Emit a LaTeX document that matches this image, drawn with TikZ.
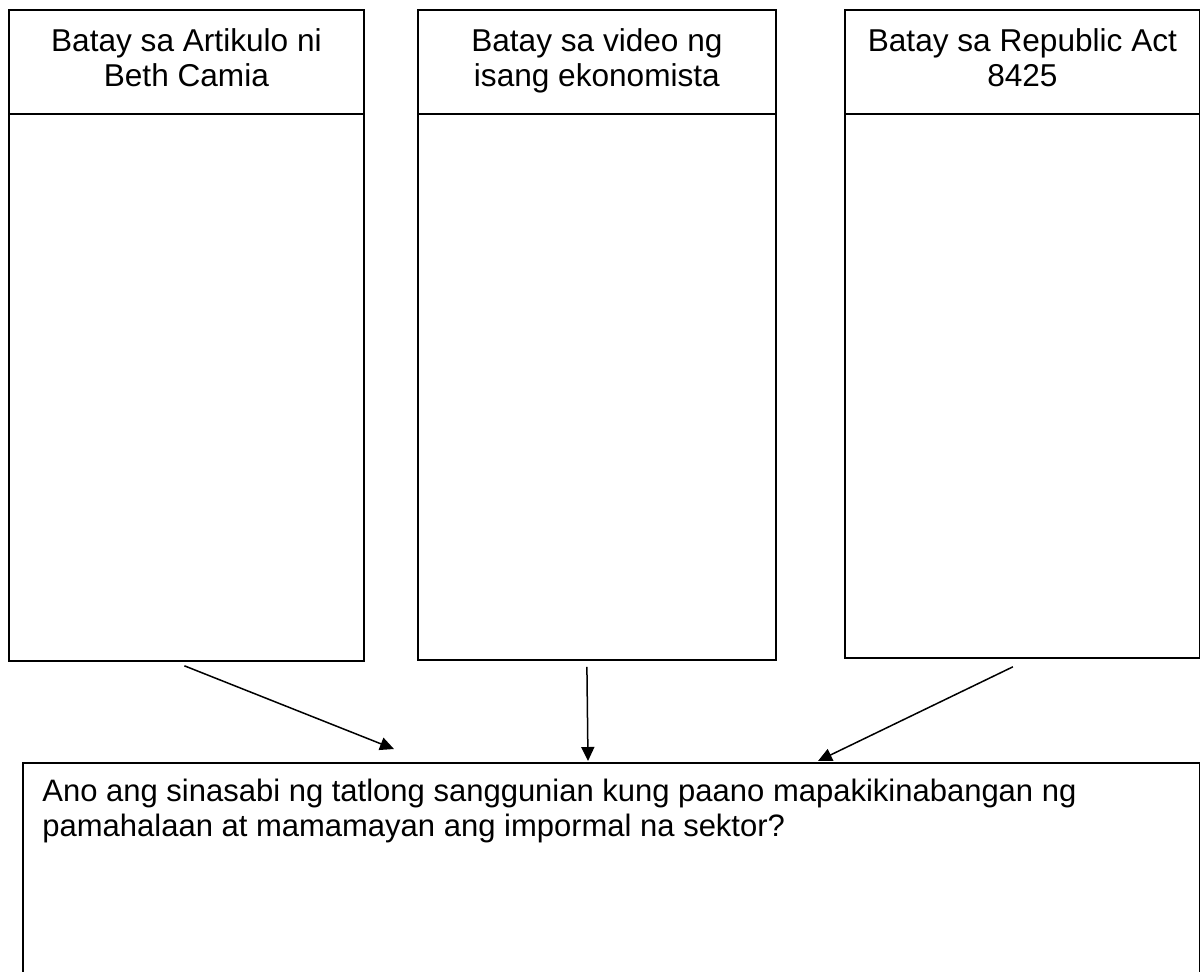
\documentclass[tikz,border=0pt]{standalone}
\usepackage{fontspec}
\setmainfont{Liberation Sans}
\usetikzlibrary{arrows.meta,positioning,calc}

\begin{document}
\begin{tikzpicture}[x=0.5pt,y=-0.5pt,font=\fontsize{15.8}{17.5}\selectfont,
  box/.style={draw,line width=0.9pt,inner sep=0pt},
  arr/.style={-{Triangle[length=7pt,width=6.5pt]},line width=0.75pt}]
  \useasboundingbox (0,0) rectangle (1200,971);
  % three source columns
  \foreach \n/\xl/\xr/\yb/\txt in {
    A/8/363/660/{Batay sa Artikulo ni\strut\\Beth Camia\strut},
    B/417/775/659/{Batay sa video ng\strut\\isang ekonomista\strut},
    C/844/1199/657/{Batay sa Republic Act\strut\\8425\strut}}
  {
    \pgfmathsetmacro{\bw}{(\xr-\xl)*0.5}
    \pgfmathsetmacro{\bh}{(\yb-9)*0.5}
    \node[box,minimum width=\bw pt,minimum height=\bh pt,anchor=north west]
      (col\n) at (\xl,9) {};
    \node[box,minimum width=\bw pt,minimum height=52pt,anchor=north,align=center]
      (head\n) at (col\n.north) {\txt};
  }
  % question box
  \node[box,minimum width=588.5pt,minimum height=109pt,anchor=north west]
    (ask) at (22,762) {};
  \node[anchor=north west,align=left,inner sep=0pt,font=\fontsize{15.5}{17.5}\selectfont]
    (askText) at (42,779)
    {Ano ang sinasabi ng tatlong sanggunian kung paano mapakikinabangan ng\\
     pamahalaan at mamamayan ang impormal na sektor?};
  \coordinate (inA) at (394,749);
  \coordinate (inB) at (588,761);
  \coordinate (inC) at (818,761);
  \draw[arr] ([xshift=-1pt,yshift=-2pt]colA.south) -- (inA);
  \draw[arr] ([xshift=-5pt,yshift=-3pt]colB.south) -- (inB);
  \draw[arr] ([xshift=-4.75pt,yshift=-4pt]colC.south) -- (inC);
\end{tikzpicture}
\end{document}
